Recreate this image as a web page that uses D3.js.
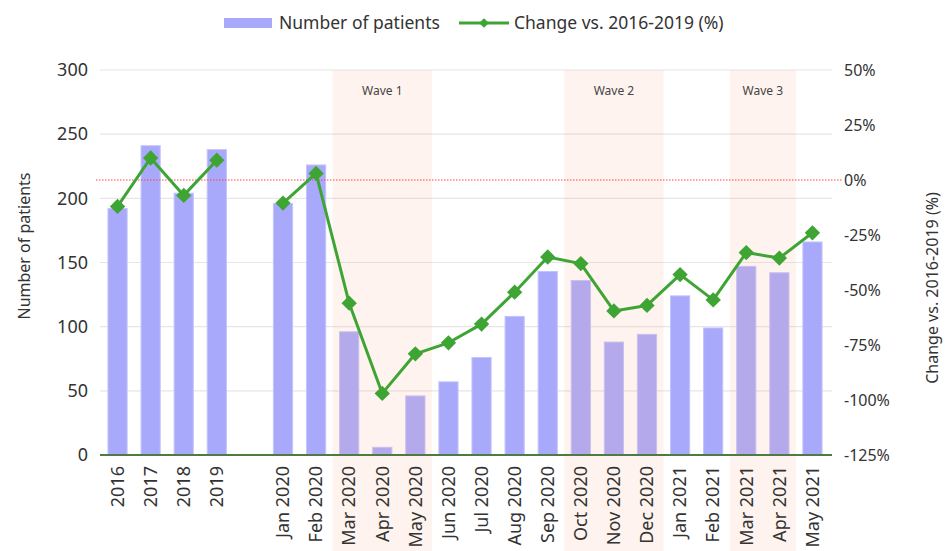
<!DOCTYPE html>
<html>
<head>
<meta charset="utf-8">
<script src="https://cdn.jsdelivr.net/npm/d3@7"></script>
<style>
  body { margin: 0; background: #fff; }
  svg { font-family: "Noto Sans", sans-serif; }
</style>
</head>
<body>
<svg id="chart" width="948" height="551"></svg>
<script>
// categories, "" is the empty slot between the yearly and monthly bars
var categories = ["2016", "2017", "2018", "2019", "",
    "Jan 2020", "Feb 2020", "Mar 2020", "Apr 2020", "May 2020", "Jun 2020",
    "Jul 2020", "Aug 2020", "Sep 2020", "Oct 2020", "Nov 2020", "Dec 2020",
    "Jan 2021", "Feb 2021", "Mar 2021", "Apr 2021", "May 2021"]
var patients = [192, 241, 204, 238, null,
    196, 226, 96, 6, 46, 57, 76, 108, 143, 136, 88, 94, 124, 99, 147, 142, 166]
var changePct = [-12, 10, -7, 9, null,
    -10.5, 3, -56, -97, -79, -74, -65.5, -51, -35, -38, -59.5, -57, -43, -54.5, -33, -35.5, -24]
var waves = [
    {label: "Wave 1", from: "Mar 2020", to: "May 2020"},
    {label: "Wave 2", from: "Oct 2020", to: "Dec 2020"},
    {label: "Wave 3", from: "Mar 2021", to: "Apr 2021"}]
var leftTicks = [0, 50, 100, 150, 200, 250, 300]
var rightTicks = [-125, -100, -75, -50, -25, 0, 25, 50]

var svg = d3.select("#chart")
var xleft = 101, xright = 829, ytop = 70, ybottom = 455

var x = d3.scaleBand().domain(categories).range([xleft, xright]).paddingInner(0.42).paddingOuter(0.21)
var yL = d3.scaleLinear().domain([0, 300]).range([ybottom, ytop])
var yR = d3.scaleLinear().domain([-125, 50]).range([ybottom, ytop])
var step = x.step()
function slotStart(c) { return x(c) - step * x.paddingInner() / 2 }

// gridlines
svg.append("g").selectAll("line")
    .data(leftTicks.slice(1))
    .enter().append("line")
    .attr("x1", xleft - 1).attr("x2", xright + 3)
    .attr("y1", function(d){return yL(d)}).attr("y2", function(d){return yL(d)})
    .attr("stroke", "#e6e6e6").attr("stroke-width", 1.2)

// bars
svg.append("g").selectAll("rect")
    .data(categories.map(function(c, i){return [c, patients[i]]}).filter(function(d){return d[1] != null}))
    .enter().append("rect")
    .attr("x", function(d){return x(d[0])})
    .attr("y", function(d){return yL(d[1])})
    .attr("width", x.bandwidth())
    .attr("height", function(d){return ybottom - yL(d[1])})
    .attr("fill", "#a9a9fb")
    .attr("stroke", "#c4c4fc")
    .attr("stroke-width", 1)

// wave shading sits over the bars
var wg = svg.append("g")
wg.selectAll("rect")
    .data(waves)
    .enter().append("rect")
    .attr("x", function(d){return slotStart(d.from)})
    .attr("y", ytop)
    .attr("width", function(d){return slotStart(d.to) + step - slotStart(d.from)})
    .attr("height", 551 - ytop)
    .attr("fill", "rgb(245,170,135)")
    .attr("fill-opacity", 0.14)
wg.selectAll("text")
    .data(waves)
    .enter().append("text")
    .attr("x", function(d){return (slotStart(d.from) + slotStart(d.to) + step) / 2})
    .attr("y", 95)
    .attr("text-anchor", "middle")
    .attr("font-size", "12px")
    .attr("fill", "#444")
    .text(function(d){return d.label})

// x baseline
svg.append("line")
    .attr("x1", xleft - 1).attr("x2", xright + 3)
    .attr("y1", ybottom).attr("y2", ybottom)
    .attr("stroke", "#4d7a45").attr("stroke-width", 2)

// 0% reference
svg.append("line")
    .attr("x1", 96).attr("x2", 842)
    .attr("y1", yR(0)).attr("y2", yR(0))
    .attr("stroke", "#ff4040").attr("stroke-width", 1)
    .attr("stroke-dasharray", "1.5,1.5")

// change line
var pts = categories.map(function(c, i){return [c, changePct[i]]})
var line = d3.line()
    .defined(function(d){return d[1] != null})
    .x(function(d){return x(d[0]) + x.bandwidth() / 2})
    .y(function(d){return yR(d[1])})
svg.append("path")
    .datum(pts)
    .attr("d", line)
    .attr("fill", "none")
    .attr("stroke", "#3ea534")
    .attr("stroke-width", 3)
    .attr("stroke-linejoin", "round")

var diamond = d3.symbol().type(d3.symbolDiamond2).size(150)
svg.append("g").selectAll("path")
    .data(pts.filter(function(d){return d[1] != null}))
    .enter().append("path")
    .attr("d", diamond)
    .attr("transform", function(d){return "translate(" + (x(d[0]) + x.bandwidth() / 2) + "," + yR(d[1]) + ")"})
    .attr("fill", "#3ea534")

// axes
var leftAxis = svg.append("g")
    .attr("transform", "translate(" + (xleft - 13) + ",0)")
    .call(d3.axisLeft(yL).tickValues(leftTicks).tickSize(0).tickPadding(0))
var rightAxis = svg.append("g")
    .attr("transform", "translate(" + (xright + 15) + ",0)")
    .call(d3.axisRight(yR).tickValues(rightTicks).tickSize(0).tickPadding(0)
        .tickFormat(function(d){return d + "%"}))
var bottomAxis = svg.append("g")
    .attr("transform", "translate(0," + ybottom + ")")
    .call(d3.axisBottom(x).tickSize(0).tickPadding(0))
;[leftAxis, rightAxis, bottomAxis].forEach(function(a){
    a.select(".domain").remove()
    a.selectAll("text").attr("font-family", "Noto Sans, sans-serif").attr("font-size", "16px").attr("fill", "#333")
})
leftAxis.selectAll("text").attr("font-size", "18px")
bottomAxis.selectAll("text")
    .attr("transform", "rotate(-90)")
    .attr("text-anchor", "end")
    .attr("dx", "-11px")
    .attr("dy", "0.35em")
    .attr("x", 0).attr("y", 0)
    .attr("font-size", "18px")

// axis titles
svg.append("text")
    .attr("transform", "translate(30,246) rotate(-90)")
    .attr("text-anchor", "middle")
    .attr("font-size", "16px").attr("fill", "#333")
    .text("Number of patients")
svg.append("text")
    .attr("transform", "translate(938,288) rotate(-90)")
    .attr("text-anchor", "middle")
    .attr("font-size", "16px").attr("fill", "#333")
    .text("Change vs. 2016-2019 (%)")

// legend
var lg = svg.append("g")
lg.append("rect").attr("x", 224).attr("y", 18).attr("width", 48).attr("height", 10).attr("fill", "#a9a9fb")
lg.append("text").attr("x", 279).attr("y", 29).attr("font-size", "17.5px").attr("fill", "#333").text("Number of patients")
lg.append("line").attr("x1", 459).attr("x2", 509).attr("y1", 23).attr("y2", 23)
    .attr("stroke", "#3ea534").attr("stroke-width", 3)
lg.append("path").attr("d", d3.symbol().type(d3.symbolDiamond2).size(60))
    .attr("transform", "translate(484,23)").attr("fill", "#3ea534")
lg.append("text").attr("x", 514).attr("y", 29).attr("font-size", "17.5px").attr("fill", "#333").text("Change vs. 2016-2019 (%)")
</script>
</body>
</html>
